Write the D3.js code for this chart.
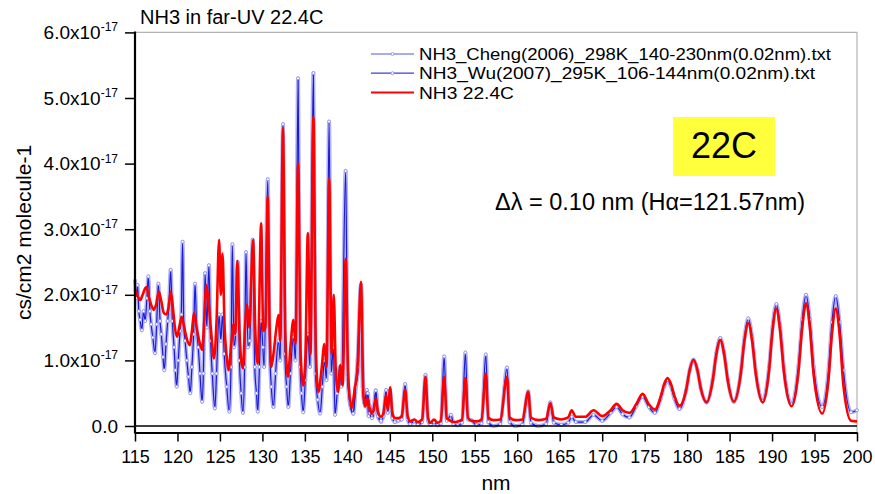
<!DOCTYPE html>
<html><head><meta charset="utf-8">
<script src="https://cdn.jsdelivr.net/npm/d3@7"></script>
<style>body{margin:0;background:#fff}svg{display:block}text{font-family:"Liberation Sans",Arial,sans-serif;fill:#000}</style>
</head><body><svg id="c" width="875" height="494"></svg>
<script>
// ---------- data (nm, cross-section in 1e-17 cm2) ----------
const wuData = [
[115.0,2.22],[115.15,1.95],[115.3,2.15],[115.45,1.75],[115.6,1.62],[115.8,1.46],[116.0,1.75],[116.2,1.6],[116.4,1.95],[116.57,2.28],
[116.75,1.75],[116.9,1.55],[117.1,1.35],[117.35,1.11],[117.55,1.55],[117.75,2.17],[117.95,1.6],[118.1,1.4],[118.3,1.05],[118.45,0.85],
[118.65,1.25],[118.85,1.6],[119.0,1.85],[119.2,2.38],[119.4,1.6],[119.6,1.2],[119.75,0.85],[119.9,0.60],[120.1,1.0],[120.3,1.45],
[120.45,1.7],[120.6,2.81],[120.75,1.5],[120.9,1.3],[121.1,1.0],[121.3,0.75],[121.5,0.50],[121.7,0.9],[121.9,1.4],[122.07,2.17],
[122.25,1.5],[122.45,1.2],[122.65,0.8],[122.9,0.37],[123.05,0.8],[123.25,2.33],[123.45,1.5],[123.7,2.45],[123.9,1.3],[124.1,0.8],
[124.4,0.27],[124.6,0.8],[124.9,1.7],[125.1,1.3],[125.3,1.7],[125.5,1.1],[125.8,0.6],[126.1,0.22],[126.3,0.9],[126.46,2.77],
[126.65,1.2],[126.85,1.4],[127.1,2.5],[127.3,1.0],[127.5,0.5],[127.7,0.20],[127.9,0.9],[128.07,2.65],[128.3,1.2],[128.5,1.3],
[128.86,2.84],[129.1,0.9],[129.3,0.5],[129.45,0.22],[129.65,0.9],[129.85,1.6],[130.05,1.2],[130.2,0.9],[130.63,3.76],[130.85,1.2],
[131.05,0.6],[131.3,0.29],[131.55,0.8],[131.9,1.3],[132.1,1.0],[132.42,4.60],[132.65,1.1],[132.85,0.6],[133.05,0.29],[133.3,0.8],
[133.65,1.36],[133.9,1.0],[134.2,5.30],[134.45,0.9],[134.6,0.5],[134.8,0.21],[135.05,0.7],[135.35,1.4],[135.6,0.9],[136.0,5.38],
[136.25,0.8],[136.5,0.4],[136.8,0.19],[137.05,0.6],[137.3,1.0],[137.55,0.7],[137.85,4.64],[138.1,0.8],[138.35,1.2],[138.55,0.17],
[138.8,0.5],[139.1,0.9],[139.3,0.6],[139.8,3.89],[140.05,0.7],[140.3,0.35],[140.7,0.19],[140.9,0.5],[141.2,1.0],[141.6,2.15],
[141.8,0.6],[142.0,0.35],[142.3,0.55],[142.5,0.15],[142.7,0.3],[142.9,0.15],[143.1,0.25],[143.35,0.54],[143.6,0.15],[144.0,0.06]
];
const chengData = [
[140.0,0.8],[140.3,0.35],[140.7,0.19],[141.0,0.6],[141.3,0.9],[141.6,2.15],[141.9,0.5],[142.1,0.3],[142.4,0.5],[142.65,0.2],
[142.9,0.12],[143.1,0.2],[143.35,0.54],[143.6,0.15],[143.97,0.08],[144.25,0.15],[144.56,0.55],[144.75,0.2],[145.03,0.55],[145.3,0.12],
[145.6,0.06],[146.0,0.08],[146.4,0.1],[146.8,0.64],[147.1,0.1],[147.4,0.03],[147.9,0.08],[148.3,0.02],[148.8,0.06],[149.2,0.78],
[149.5,0.08],[149.8,0.02],[150.2,0.06],[150.6,0.01],[151.0,0.04],[151.4,1.06],[151.7,0.08],[152.2,0.17],[152.5,0.03],[153.0,0.01],
[153.5,0.05],[153.9,1.12],[154.2,0.1],[154.6,0.09],[155.2,0.01],[155.8,0.04],[156.3,1.09],[156.6,0.06],[157.2,0.0],[158.0,0.03],
[158.8,0.89],[159.1,0.06],[159.8,0.0],[160.6,0.02],[161.3,0.53],[161.6,0.05],[162.5,0.0],[163.4,0.03],[163.9,0.36],[164.3,0.05],
[165.2,0.02],[166.0,0.05],[166.4,0.14],[166.9,0.06],[168.0,0.06],[168.98,0.17],[170.0,0.08],[171.0,0.2],[171.7,0.29],[172.4,0.18],
[173.2,0.13],[174.0,0.3],[174.75,0.45],[175.5,0.29],[176.2,0.2],[176.9,0.42],[177.3,0.6],[177.7,0.70],[178.1,0.6],[178.5,0.42],
[179.1,0.26],[179.9,0.55],[180.3,0.85],[180.75,1.01],[181.2,0.86],[181.6,0.58],[182.3,0.36],[183.0,0.7],[183.45,1.12],[183.9,1.34],
[184.35,1.12],[184.8,0.7],[185.5,0.37],[186.3,0.8],[186.75,1.35],[187.2,1.64],[187.65,1.36],[188.1,0.82],[188.9,0.38],[189.65,0.9],
[190.05,1.5],[190.5,1.86],[190.95,1.52],[191.4,0.88],[192.3,0.33],[193.1,0.9],[193.55,1.62],[194.0,2.0],[194.45,1.62],[194.9,0.9],
[195.9,0.29],[196.65,0.85],[197.05,1.58],[197.5,1.98],[197.95,1.58],[198.4,0.85],[199.3,0.21],[200.0,0.24]
];
const redData = [
[115.0,2.08],[115.3,1.98],[115.6,1.92],[115.9,2.0],[116.2,2.1],[116.35,2.12],[116.6,1.98],[116.9,1.85],[117.2,1.77],[117.5,1.86],
[117.8,2.05],[118.1,1.9],[118.4,1.72],[118.7,1.70],[119.0,1.85],[119.2,2.05],[119.45,1.82],[119.7,1.5],[119.95,1.36],[120.2,1.5],
[120.5,1.66],[120.8,1.5],[121.1,1.33],[121.45,1.23],[121.7,1.45],[121.95,1.72],[122.25,1.5],[122.6,1.28],[122.9,1.16],[123.15,1.6],
[123.4,2.15],[123.65,1.9],[123.95,1.45],[124.3,1.03],[124.6,1.6],[124.9,2.84],[125.1,2.0],[125.3,2.63],[125.55,1.5],[125.8,1.05],
[126.0,0.85],[126.3,1.2],[126.6,1.55],[126.8,1.4],[127.05,2.52],[127.3,1.45],[127.5,1.0],[127.7,0.88],[127.95,1.5],[128.2,1.85],
[128.45,1.5],[128.9,2.84],[129.15,1.5],[129.45,0.95],[129.85,3.09],[130.1,1.45],[130.35,1.5],[130.63,3.50],[130.85,1.5],[131.05,0.90],
[131.35,1.15],[131.65,1.5],[131.9,1.69],[132.1,1.3],[132.42,4.54],[132.7,1.4],[133.0,0.75],[133.3,1.2],[133.65,1.62],[133.9,1.25],
[134.2,4.01],[134.5,1.1],[134.8,0.62],[135.05,1.0],[135.35,2.94],[135.65,1.1],[136.0,4.71],[136.3,1.1],[136.6,0.52],[136.95,0.85],
[137.3,1.25],[137.55,0.9],[137.85,3.78],[138.15,1.1],[138.4,2.0],[138.65,0.8],[138.9,0.52],[139.2,0.93],[139.45,0.62],[139.8,2.55],
[140.1,0.75],[140.5,0.27],[140.85,0.55],[141.2,0.9],[141.6,2.2],[141.9,0.45],[142.1,0.30],[142.4,0.42],[142.65,0.25],[142.9,0.19],
[143.1,0.25],[143.35,0.42],[143.6,0.22],[143.97,0.14],[144.25,0.2],[144.56,0.47],[144.75,0.25],[145.03,0.59],[145.3,0.2],[145.6,0.12],
[146.0,0.12],[146.4,0.15],[146.8,0.55],[147.1,0.15],[147.4,0.07],[147.9,0.1],[148.3,0.06],[148.8,0.1],[149.2,0.75],[149.5,0.12],
[149.8,0.05],[150.2,0.1],[150.6,0.05],[151.0,0.08],[151.4,0.75],[151.7,0.12],[152.0,0.09],[152.5,0.06],[153.0,0.07],[153.5,0.1],
[153.9,0.73],[154.2,0.12],[154.6,0.08],[155.2,0.07],[155.8,0.1],[156.3,0.80],[156.6,0.13],[157.2,0.09],[158.0,0.1],[158.8,0.75],
[159.1,0.13],[159.8,0.09],[160.6,0.1],[161.3,0.52],[161.6,0.13],[162.5,0.09],[163.4,0.11],[163.9,0.35],[164.3,0.13],[165.2,0.1],
[166.0,0.13],[166.4,0.24],[166.9,0.14],[168.0,0.14],[168.98,0.24],[170.0,0.15],[171.0,0.24],[171.7,0.34],[172.4,0.24],[173.2,0.2],
[174.0,0.33],[174.75,0.49],[175.5,0.33],[176.2,0.25],[176.9,0.45],[177.3,0.64],[177.7,0.73],[178.1,0.64],[178.5,0.46],[179.1,0.31],
[179.9,0.56],[180.3,0.85],[180.75,1.01],[181.2,0.86],[181.6,0.58],[182.3,0.36],[183.0,0.68],[183.45,1.10],[183.9,1.31],[184.35,1.10],
[184.8,0.68],[185.5,0.37],[186.3,0.78],[186.75,1.30],[187.2,1.57],[187.65,1.30],[188.1,0.78],[188.9,0.36],[189.65,0.85],[190.05,1.45],
[190.5,1.79],[190.95,1.45],[191.4,0.82],[192.3,0.30],[193.1,0.82],[193.55,1.50],[194.0,1.87],[194.45,1.50],[194.9,0.78],[195.9,0.19],
[196.65,0.72],[197.05,1.40],[197.5,1.79],[197.95,1.40],[198.4,0.62],[199.3,0.08],[200.0,0.07]
];
const xMajorTicks = [115,120,125,130,135,140,145,150,155,160,165,170,175,180,185,190,195,200];
const yMajorTicks = [0,1,2,3,4,5,6];
const yMinorTicks = [0.5,1.5,2.5,3.5,4.5,5.5];
const legendLabels = ["NH3_Cheng(2006)_298K_140-230nm(0.02nm).txt","NH3_Wu(2007)_295K_106-144nm(0.02nm).txt","NH3 22.4C"];
const legendColors = ["#8c8cf0","#3c3ce6","#ff0000"];
const titleText = "NH3 in far-UV 22.4C";
const xLabel = "nm", yLabel = "cs/cm2 molecule-1";
const badgeText = "22C";
const noteText = "\u0394\u03bb = 0.10 nm (H\u03b1=121.57nm)";

// ---------- drawing ----------
const svg = d3.select("#c");
const x = d3.scaleLinear().domain([115,200]).range([135,857]);
const y = d3.scaleLinear().domain([0,6]).range([426,32.4]);
const axisY = 432.5;

// frame (top/right light gray)
svg.append("path").attr("d",`M${x(115)},${y(6)}H${x(200)}V${axisY}`)
  .attr("fill","none").attr("stroke","#b4b4b4").attr("stroke-width",1.2);

// series
const line = d3.line().x(d=>x(d[0])).y(d=>y(d[1])).curve(d3.curveMonotoneX);
const blueSeries = [wuData, chengData];
blueSeries.forEach(ds=>{
  svg.append("path").attr("d",line(ds)).attr("fill","none")
    .attr("stroke","#b4b4f4").attr("stroke-width",4).attr("stroke-linejoin","round");
});
blueSeries.forEach(ds=>{
  svg.append("path").attr("d",line(ds)).attr("fill","none")
    .attr("stroke","#1c1cd6").attr("stroke-width",1.2).attr("stroke-linejoin","round");
  svg.append("g").selectAll("circle").data(ds).join("circle")
    .attr("cx",d=>x(d[0])).attr("cy",d=>y(d[1])).attr("r",1.5)
    .attr("fill","#fff").attr("stroke","#8686e6").attr("stroke-width",0.8);
});
svg.append("path").attr("d",line(redData)).attr("fill","none")
  .attr("stroke","#ff0000").attr("stroke-width",2.6).attr("stroke-linejoin","round");

// zero line
svg.append("line").attr("x1",x(115)).attr("x2",x(200)).attr("y1",y(0)).attr("y2",y(0))
  .attr("stroke","#000").attr("stroke-width",1.6);

// bottom axis
const gx = svg.append("g").attr("transform",`translate(0,${axisY})`);
gx.call(d3.axisBottom(x).tickValues(d3.range(115,201,1)).tickSize(5).tickSizeOuter(0).tickFormat(""));
gx.call(d3.axisBottom(x).tickValues(xMajorTicks).tickSize(9).tickSizeOuter(0).tickFormat(d3.format("d")));
gx.selectAll(".domain").attr("stroke","#000").attr("stroke-width",2);
gx.selectAll(".tick line").attr("stroke","#000").attr("stroke-width",1.5);
gx.selectAll(".tick text").attr("font-size",18).attr("font-family","Liberation Sans, Arial, sans-serif").attr("dy","1.0em").attr("fill","#000");

// left axis
const gy = svg.append("g").attr("transform",`translate(${x(115)},0)`);
gy.call(d3.axisLeft(y).tickValues(yMinorTicks).tickSize(6).tickSizeOuter(0).tickFormat(""));
gy.call(d3.axisLeft(y).tickValues(yMajorTicks).tickSize(10).tickSizeOuter(0).tickFormat(""));
gy.selectAll(".domain").remove();
gy.selectAll(".tick line").attr("stroke","#000").attr("stroke-width",1.5);
svg.append("line").attr("x1",x(115)).attr("x2",x(115)).attr("y1",y(6)-1).attr("y2",axisY+1)
  .attr("stroke","#000").attr("stroke-width",2.2);

const yl = svg.append("g").selectAll("text").data(yMajorTicks).join("text")
  .attr("x",118).attr("y",d=>y(d)+6.5).attr("text-anchor","end").attr("font-size",19);
yl.each(function(d){
  const t = d3.select(this);
  if(d===0){ t.text("0.0"); return; }
  t.append("tspan").text(d.toFixed(1)+"x10");
  t.append("tspan").attr("dy",-7.5).attr("font-size",12).text("-17");
});

// titles
svg.append("text").attr("x",140).attr("y",24).attr("font-size",20).text(titleText);
svg.append("text").attr("x",(x(115)+x(200))/2).attr("y",490).attr("text-anchor","middle").attr("font-size",21).text(xLabel);
svg.append("text").attr("transform",`translate(31,${(y(6)+axisY)/2}) rotate(-90)`).attr("text-anchor","middle").attr("font-size",21).text(yLabel);

// legend
const legendWidths = [412, 396, 95];
const lg = svg.append("g").selectAll("g").data(legendLabels).join("g")
  .attr("transform",(d,i)=>`translate(371,${54+i*19.2})`);
lg.append("line").attr("x1",0).attr("x2",43).attr("stroke",(d,i)=>legendColors[i]).attr("stroke-width",(d,i)=>i===2?2:1.3);
lg.filter((d,i)=>i<2).append("circle").attr("cx",21.5).attr("r",1.5).attr("fill","#fff").attr("stroke","#8686e6").attr("stroke-width",0.8);
lg.append("text").attr("x",48).attr("y",6.2).attr("font-size",16.6)
  .attr("textLength",(d,i)=>legendWidths[i]).attr("lengthAdjust","spacingAndGlyphs").text(d=>d);

// badge
svg.append("rect").attr("x",673).attr("y",117).attr("width",102).attr("height",59).attr("fill","#ffff3c");
svg.append("text").attr("x",724).attr("y",158).attr("text-anchor","middle").attr("font-size",36).text(badgeText);

// note
svg.append("text").attr("x",495).attr("y",210).attr("font-size",23.5).text(noteText);
</script></body></html>
